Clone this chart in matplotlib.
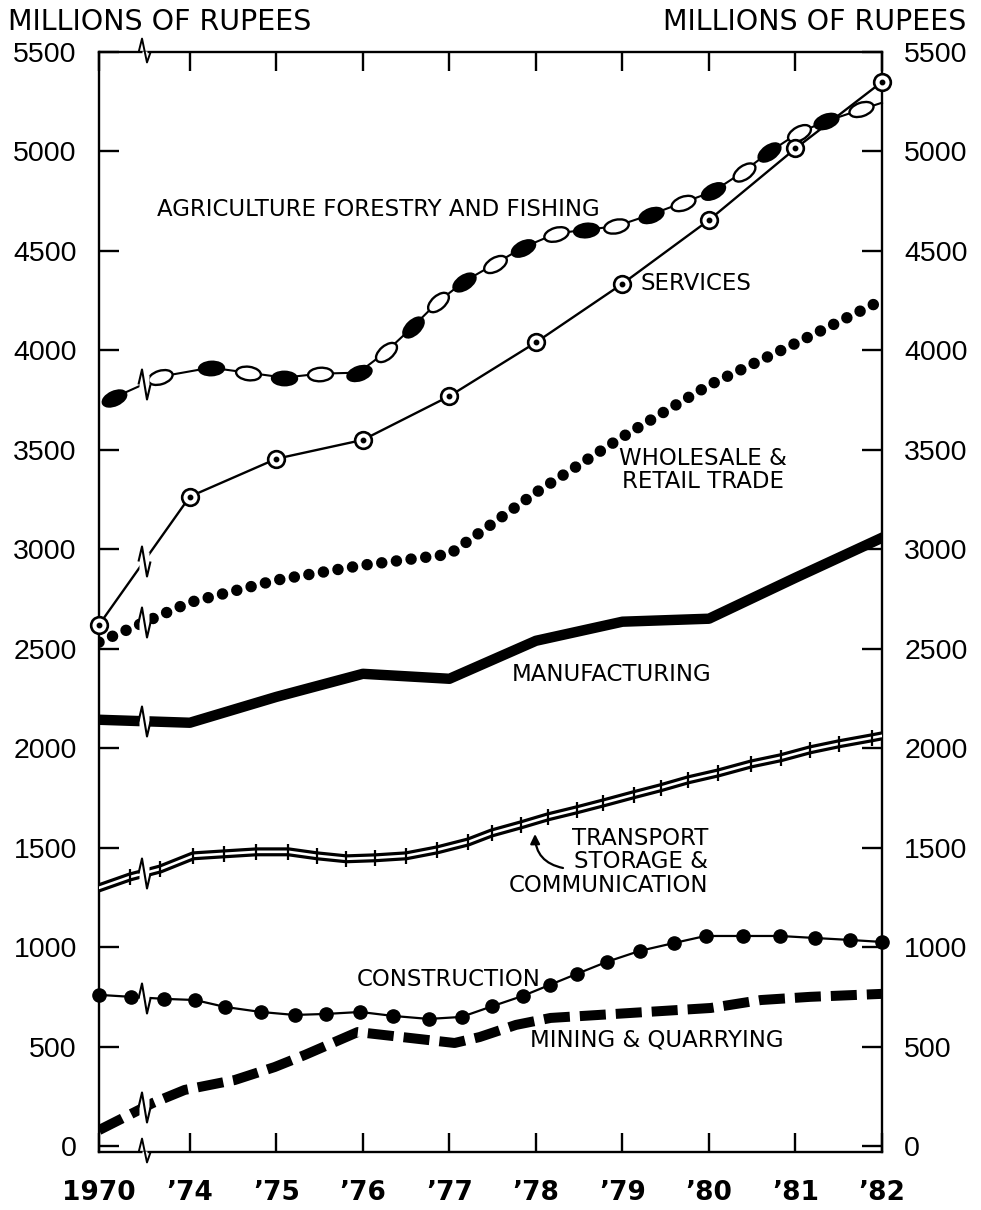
import numpy as np
import matplotlib
matplotlib.use('Agg')
import matplotlib.pyplot as plt
from matplotlib.path import Path
from matplotlib.markers import MarkerStyle
from matplotlib.transforms import Affine2D
from matplotlib import font_manager

# ---------------- data ----------------
X70 = 1972.95       # axis position of the 1970 tick (broken axis)
X_BREAK = 1973.47   # axis position of the break symbol
tick_pos = [X70, 1974, 1975, 1976, 1977, 1978, 1979, 1980, 1981, 1982]
tick_labels = ['1970', '\u201974', '\u201975', '\u201976', '\u201977',
               '\u201978', '\u201979', '\u201980', '\u201981', '\u201982']
y_ticks = list(range(0, 5501, 500))

services = [2620, 3265, 3455, 3550, 3770, 4040, 4335, 4655, 5015, 5350]
wholesale = [2533, 2733, 2845, 2920, 2975, 3285, 3565, 3825, 4035, 4252]
manufacturing = [2143, 2128, 2258, 2374, 2349, 2540, 2636, 2651, 2857, 3058]

agri_x = [1973.12, 1973.66, 1974.24, 1974.67, 1975.09, 1975.51, 1975.95, 1976.27,
          1976.58, 1976.87, 1977.17, 1977.53, 1977.85, 1978.23, 1978.58, 1978.92,
          1979.33, 1979.70, 1980.05, 1980.40, 1980.69, 1981.04, 1981.35, 1981.76]
agri_y = [3762, 3868, 3913, 3888, 3863, 3883, 3888, 3994,
          4120, 4245, 4346, 4436, 4517, 4587, 4607, 4623,
          4683, 4743, 4799, 4899, 4995, 5095, 5151, 5211]
agri_end = (1982, 5245)

transport_x = [X70, 1973.31, 1973.66, 1974.04, 1974.40, 1974.77, 1975.14, 1975.47,
               1975.81, 1976.14, 1976.50, 1976.86, 1977.22, 1977.49, 1977.83, 1978.14,
               1978.47, 1978.78, 1979.13, 1979.44, 1979.76, 1980.11, 1980.49, 1980.83,
               1981.17, 1981.50, 1981.88, 1982]
transport_y = [1298, 1353, 1393, 1459, 1469, 1479, 1479, 1459,
               1444, 1449, 1459, 1489, 1529, 1574, 1615, 1655,
               1690, 1725, 1766, 1801, 1841, 1876, 1921, 1952,
               1992, 2022, 2052, 2062]

construction_x = [X70, 1973.32, 1973.70, 1974.06, 1974.41, 1974.82, 1975.21, 1975.57,
                  1975.97, 1976.35, 1976.76, 1977.14, 1977.49, 1977.85, 1978.16, 1978.47,
                  1978.82, 1979.20, 1979.60, 1979.96, 1980.39, 1980.82, 1981.22, 1981.63,
                  1982]
construction_y = [760, 750, 740, 734, 699, 674, 659, 664,
                  674, 654, 639, 649, 702, 755, 810, 865,
                  926, 981, 1021, 1056, 1056, 1056, 1046, 1036,
                  1026]

mining_x = [X70, 1973.57, 1973.94, 1974.52, 1974.98, 1975.33, 1975.94, 1977.06,
            1977.35, 1977.77, 1978.17, 1980.02, 1980.60, 1981.17, 1982]
mining_y = [80, 216, 282, 332, 397, 458, 573, 518,
            548, 609, 644, 694, 734, 750, 765]

# ---------------- fonts ----------------
names = {f.name for f in font_manager.fontManager.ttflist}
NARROW = 'Liberation Sans Narrow' if 'Liberation Sans Narrow' in names else 'DejaVu Sans'
NUM = 'Liberation Sans' if 'Liberation Sans' in names else 'DejaVu Sans'
LET = 'DejaVu Sans'

W, H = 981, 1210
fig = plt.figure(figsize=(W / 100, H / 100), dpi=100)
AX_L, AX_R, AX_T, AX_B = 99, 882, 52, 1152
ax = fig.add_axes([AX_L / W, 1 - AX_B / H, (AX_R - AX_L) / W, (AX_B - AX_T) / H])
ax.set_xlim(X70, 1982)
ax.set_ylim(-30, 5500)

for s in ax.spines.values():
    s.set_linewidth(1.7)

ax.set_xticks(tick_pos)
ax.set_xticklabels(tick_labels, fontfamily=NARROW, fontweight='bold',
                   fontsize=25 if NARROW != 'DejaVu Sans' else 19)
ax.set_yticks(y_ticks)
ax.set_yticklabels([str(v) for v in y_ticks], fontfamily=NUM, fontsize=20.5)
ax.tick_params(axis='x', direction='in', length=13.5, width=1.7, top=True, pad=20)
ax.tick_params(axis='y', direction='in', length=14.5, width=1.7, right=True,
               labelright=True, pad=16)
for t in ax.yaxis.get_major_ticks():
    t.label2.set_fontfamily(NUM)
    t.label2.set_fontsize(20.5)

# ---------------- series ----------------
# Agriculture: thin line with alternate filled/open chain links
ax.plot(agri_x + [agri_end[0]], agri_y + [agri_end[1]], color='black', lw=1.5,
        zorder=3, clip_on=False)
disp = ax.transData.transform(np.column_stack([agri_x, agri_y]))
n = len(agri_x)
for i in range(n):
    j0, j1 = max(i - 1, 0), min(i + 1, n - 1)
    dx, dy = disp[j1] - disp[j0]
    ang = np.degrees(np.arctan2(dy, dx))
    m = MarkerStyle(Path.unit_circle(),
                    transform=Affine2D().scale(1, 0.54).rotate_deg(ang))
    ax.plot([agri_x[i]], [agri_y[i]], marker=m, ms=18,
            mfc='black' if i % 2 == 0 else 'white', mec='black', mew=1.7,
            ls='none', zorder=4, clip_on=False)

# Services: line with dotted circles
ax.plot(tick_pos, services, color='black', lw=1.7, zorder=3, clip_on=False)
ax.plot(tick_pos, services, ls='none', marker='o', ms=12, mfc='white',
        mec='black', mew=1.9, zorder=4, clip_on=False)
ax.plot(tick_pos, services, ls='none', marker='o', ms=3.2, mfc='black',
        mec='black', zorder=5, clip_on=False)

# Wholesale & retail trade: heavy dotted line
ax.plot(tick_pos, wholesale, color='black', lw=8.3, ls=(0, (0.001, 1.28)),
        dash_capstyle='round', zorder=3)

# Manufacturing: heavy solid line
ax.plot(tick_pos, manufacturing, color='black', lw=7.5, zorder=3,
        solid_joinstyle='round')

# Transport: double line with cross ticks
ax.plot(transport_x, transport_y, color='black', lw=6.5, zorder=3,
        solid_joinstyle='round')
ax.plot(transport_x, transport_y, color='white', lw=1.9, zorder=3.5)
ax.plot(transport_x[1:-1], transport_y[1:-1], ls='none', marker='|', ms=12,
        mew=1.6, color='black', zorder=4)

# Construction: thin line with filled dots
ax.plot(construction_x, construction_y, color='black', lw=1.6, marker='o', ms=9.5,
        mfc='black', mec='black', zorder=3, clip_on=False)

# Mining & quarrying: heavy dashed line
ax.plot(mining_x, mining_y, color='black', lw=7.2, ls=(0, (2.6, 1.0)),
        dash_capstyle='butt', zorder=3)

# ---------------- break symbols ----------------
zig = MarkerStyle(Path([(-6, 0), (-2.5, 15), (2.5, -15), (6, 0)],
                       [Path.MOVETO, Path.LINETO, Path.LINETO, Path.LINETO]))
gap = MarkerStyle(Path([(-5, -9), (5, -9), (5, 9), (-5, 9), (-5, -9)],
                       [Path.MOVETO, Path.LINETO, Path.LINETO, Path.LINETO,
                        Path.CLOSEPOLY]))
for xs, ys in [(agri_x, agri_y), (tick_pos, services), (tick_pos, wholesale),
               (tick_pos, manufacturing), (transport_x, transport_y),
               (construction_x, construction_y), (mining_x, mining_y)]:
    yb = np.interp(X_BREAK, xs, ys)
    ax.plot([X_BREAK], [yb], marker=gap, ms=13, mfc='white', mec='none',
            ls='none', zorder=6)
    ax.plot([X_BREAK], [yb], marker=zig, ms=21.6, mfc='none', mec='black',
            mew=1.5, ls='none', zorder=7)

zig_s = MarkerStyle(Path([(-6, 0), (-2.5, 14), (2.5, -10), (6, 0)],
                         [Path.MOVETO, Path.LINETO, Path.LINETO, Path.LINETO]))
gap_s = MarkerStyle(Path([(-5, -3), (5, -3), (5, 3), (-5, 3), (-5, -3)],
                         [Path.MOVETO, Path.LINETO, Path.LINETO, Path.LINETO,
                          Path.CLOSEPOLY]))
for yy in (0, 1):
    ax.plot([X_BREAK], [yy], transform=ax.get_xaxis_transform(), marker=gap_s,
            ms=3.6, mfc='white', mec='none', ls='none', zorder=8, clip_on=False)
    ax.plot([X_BREAK], [yy], transform=ax.get_xaxis_transform(), marker=zig_s,
            ms=20, mfc='none', mec='black', mew=1.4, ls='none', zorder=9,
            clip_on=False)

# ---------------- text ----------------
def fx(px):
    return px / W


def fy(py):
    return 1 - py / H


fig.text(fx(8), fy(22), 'MILLIONS OF RUPEES', fontfamily=LET, fontsize=20.5,
         ha='left', va='center')
fig.text(fx(966), fy(22), 'MILLIONS OF RUPEES', fontfamily=LET, fontsize=20.5,
         ha='right', va='center')

LS = 16.5
fig.text(fx(157), fy(210), 'AGRICULTURE FORESTRY AND FISHING', fontfamily=LET,
         fontsize=LS, ha='left', va='center')
fig.text(fx(640), fy(283), 'SERVICES', fontfamily=LET, fontsize=LS,
         ha='left', va='center')
fig.text(fx(703), fy(470), 'WHOLESALE &\nRETAIL TRADE', fontfamily=LET,
         fontsize=LS, ha='center', va='center', multialignment='center',
         linespacing=1.05)
fig.text(fx(512), fy(674), 'MANUFACTURING', fontfamily=LET, fontsize=LS,
         ha='left', va='center')
fig.text(fx(708), fy(862), 'TRANSPORT\nSTORAGE &\nCOMMUNICATION', fontfamily=LET,
         fontsize=LS, ha='right', va='center', multialignment='right',
         linespacing=1.05)
fig.text(fx(357), fy(980), 'CONSTRUCTION', fontfamily=LET, fontsize=LS,
         ha='left', va='center')
fig.text(fx(530), fy(1040), 'MINING & QUARRYING', fontfamily=LET, fontsize=LS,
         ha='left', va='center')

ax.annotate('', xy=(fx(535), fy(834)), xycoords='figure fraction',
            xytext=(fx(563), fy(868)), textcoords='figure fraction',
            arrowprops=dict(arrowstyle='-|>', color='black', lw=1.6,
                            mutation_scale=14, shrinkA=0, shrinkB=0,
                            connectionstyle='arc3,rad=-0.4'))

fig.savefig('out.png', dpi=100, facecolor='white')
